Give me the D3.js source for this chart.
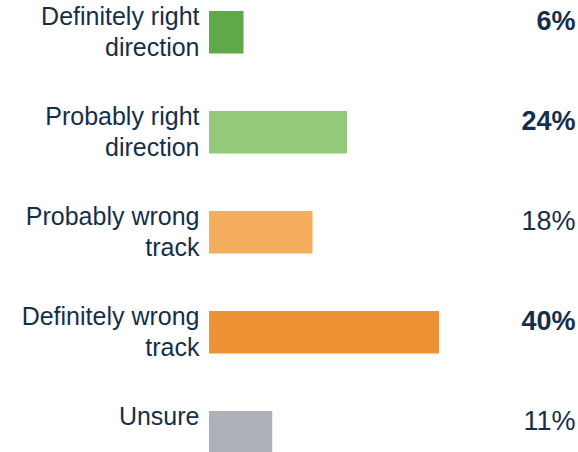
<!DOCTYPE html>
<html>
<head>
<meta charset="utf-8">
<script src="https://cdn.jsdelivr.net/npm/d3@7"></script>
<style>
  html, body { margin: 0; padding: 0; background: #ffffff; }
  svg { display: block; }
  text { font-family: "Liberation Sans", Arial, sans-serif; fill: #152f4b; }
</style>
</head>
<body>
<svg id="chart" width="578" height="452"></svg>
<script>
const categories = [
  "Definitely right direction",
  "Probably right direction",
  "Probably wrong track",
  "Definitely wrong track",
  "Unsure"
];
const labelLines = [
  ["Definitely right", "direction"],
  ["Probably right", "direction"],
  ["Probably wrong", "track"],
  ["Definitely wrong", "track"],
  ["Unsure"]
];
const values = [6, 24, 18, 40, 11];
const valueLabels = ["6%", "24%", "18%", "40%", "11%"];
const boldValue = [true, true, false, true, false];
const colors = ["#5ea94a", "#93c979", "#f5ae5e", "#ee9236", "#afb1b8"];

const svg = d3.select("#chart");

const x = d3.scaleLinear().domain([0, 40]).range([209, 439]);
const y = d3.scaleBand()
  .domain(categories)
  .range([11, 453.5])
  .paddingInner(0.575)
  .paddingOuter(0);

svg.selectAll("rect.bar")
  .data(categories)
  .join("rect")
  .attr("class", "bar")
  .attr("x", x(0))
  .attr("y", d => y(d))
  .attr("width", (d, i) => x(values[i]) - x(0))
  .attr("height", y.bandwidth())
  .attr("fill", (d, i) => colors[i]);

// category labels
const lab = svg.selectAll("text.cat")
  .data(categories)
  .join("text")
  .attr("class", "cat")
  .attr("text-anchor", "end")
  .attr("font-size", 25)
  .attr("y", d => y(d) + 14);

lab.each(function(d, i) {
  d3.select(this).selectAll("tspan")
    .data(labelLines[i])
    .join("tspan")
    .attr("x", 199.5)
    .attr("dy", (t, j) => j === 0 ? 0 : 30.7)
    .text(t => t);
});

// value labels
svg.selectAll("text.val")
  .data(categories)
  .join("text")
  .attr("class", "val")
  .attr("text-anchor", "end")
  .attr("font-size", 27)
  .attr("font-weight", (d, i) => boldValue[i] ? "bold" : "normal")
  .attr("x", 575.5)
  .attr("y", d => y(d) + 18.5)
  .text((d, i) => valueLabels[i]);
</script>
</body>
</html>
